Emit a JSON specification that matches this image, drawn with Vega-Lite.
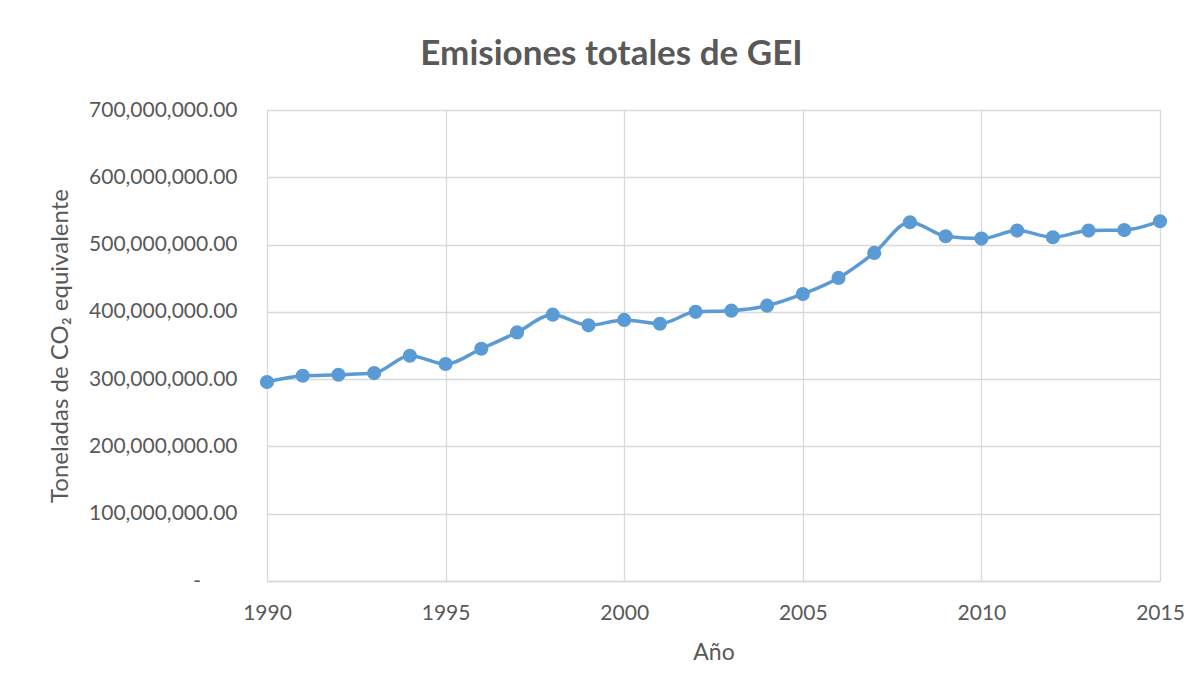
{
  "$schema": "https://vega.github.io/schema/vega-lite/v6.json",
  "width": 893,
  "height": 471,
  "autosize": {"type": "none"},
  "padding": {"left": 267, "top": 110, "right": 41, "bottom": 113},
  "background": "white",
  "title": {
    "text": "Emisiones totales de GEI",
    "anchor": "middle",
    "frame": "group",
    "dx": -102,
    "offset": 27,
    "font": "Lato",
    "fontSize": 35,
    "fontWeight": "bold",
    "color": "#595959"
  },
  "data": {
    "values": [
      {"Year": 1990, "Value": 295700000},
      {"Year": 1991, "Value": 305000000},
      {"Year": 1992, "Value": 306500000},
      {"Year": 1993, "Value": 309000000},
      {"Year": 1994, "Value": 334800000},
      {"Year": 1995, "Value": 322500000},
      {"Year": 1996, "Value": 345200000},
      {"Year": 1997, "Value": 369500000},
      {"Year": 1998, "Value": 395800000},
      {"Year": 1999, "Value": 380000000},
      {"Year": 2000, "Value": 388000000},
      {"Year": 2001, "Value": 382400000},
      {"Year": 2002, "Value": 400000000},
      {"Year": 2003, "Value": 401800000},
      {"Year": 2004, "Value": 409200000},
      {"Year": 2005, "Value": 426600000},
      {"Year": 2006, "Value": 450400000},
      {"Year": 2007, "Value": 487600000},
      {"Year": 2008, "Value": 533200000},
      {"Year": 2009, "Value": 512400000},
      {"Year": 2010, "Value": 508900000},
      {"Year": 2011, "Value": 520800000},
      {"Year": 2012, "Value": 510900000},
      {"Year": 2013, "Value": 520800000},
      {"Year": 2014, "Value": 521500000},
      {"Year": 2015, "Value": 534700000}
    ]
  },
  "encoding": {
    "x": {
      "field": "Year",
      "type": "quantitative",
      "scale": {"domain": [1990, 2015], "nice": false, "zero": false},
      "axis": {
        "title": "Año",
        "values": [1990, 1995, 2000, 2005, 2010, 2015],
        "format": "d",
        "ticks": false,
        "labelFlush": false,
        "labelPadding": 21,
        "titlePadding": 18,
        "titleFontSize": 23,
        "domainColor": "#d9d9d9",
        "domainWidth": 1.5
      }
    },
    "y": {
      "field": "Value",
      "type": "quantitative",
      "scale": {"domain": [0, 700000000], "nice": false},
      "axis": {
        "title": "Toneladas de CO₂ equivalente",
        "values": [0, 100000000, 200000000, 300000000, 400000000, 500000000, 600000000, 700000000],
        "labelExpr": "datum.value == 0 ? '-\u2007\u2007\u2007\u200b' : format(datum.value, ',.2f')",
        "ticks": false,
        "domain": false,
        "labelPadding": 30,
        "titlePadding": 16,
        "titleFontSize": 24
      }
    }
  },
  "layer": [
    {
      "mark": {"type": "line", "interpolate": "monotone", "color": "#5B9BD5", "strokeWidth": 3.5}
    },
    {
      "mark": {"type": "point", "filled": true, "opacity": 1, "color": "#5B9BD5", "size": 200}
    }
  ],
  "config": {
    "font": "Lato",
    "view": {"stroke": null},
    "axis": {
      "gridColor": "#d9d9d9",
      "gridWidth": 1.3,
      "labelFont": "Lato",
      "labelFontSize": 21,
      "labelColor": "#595959",
      "titleFont": "Lato",
      "titleFontWeight": "normal",
      "titleColor": "#595959"
    }
  }
}
